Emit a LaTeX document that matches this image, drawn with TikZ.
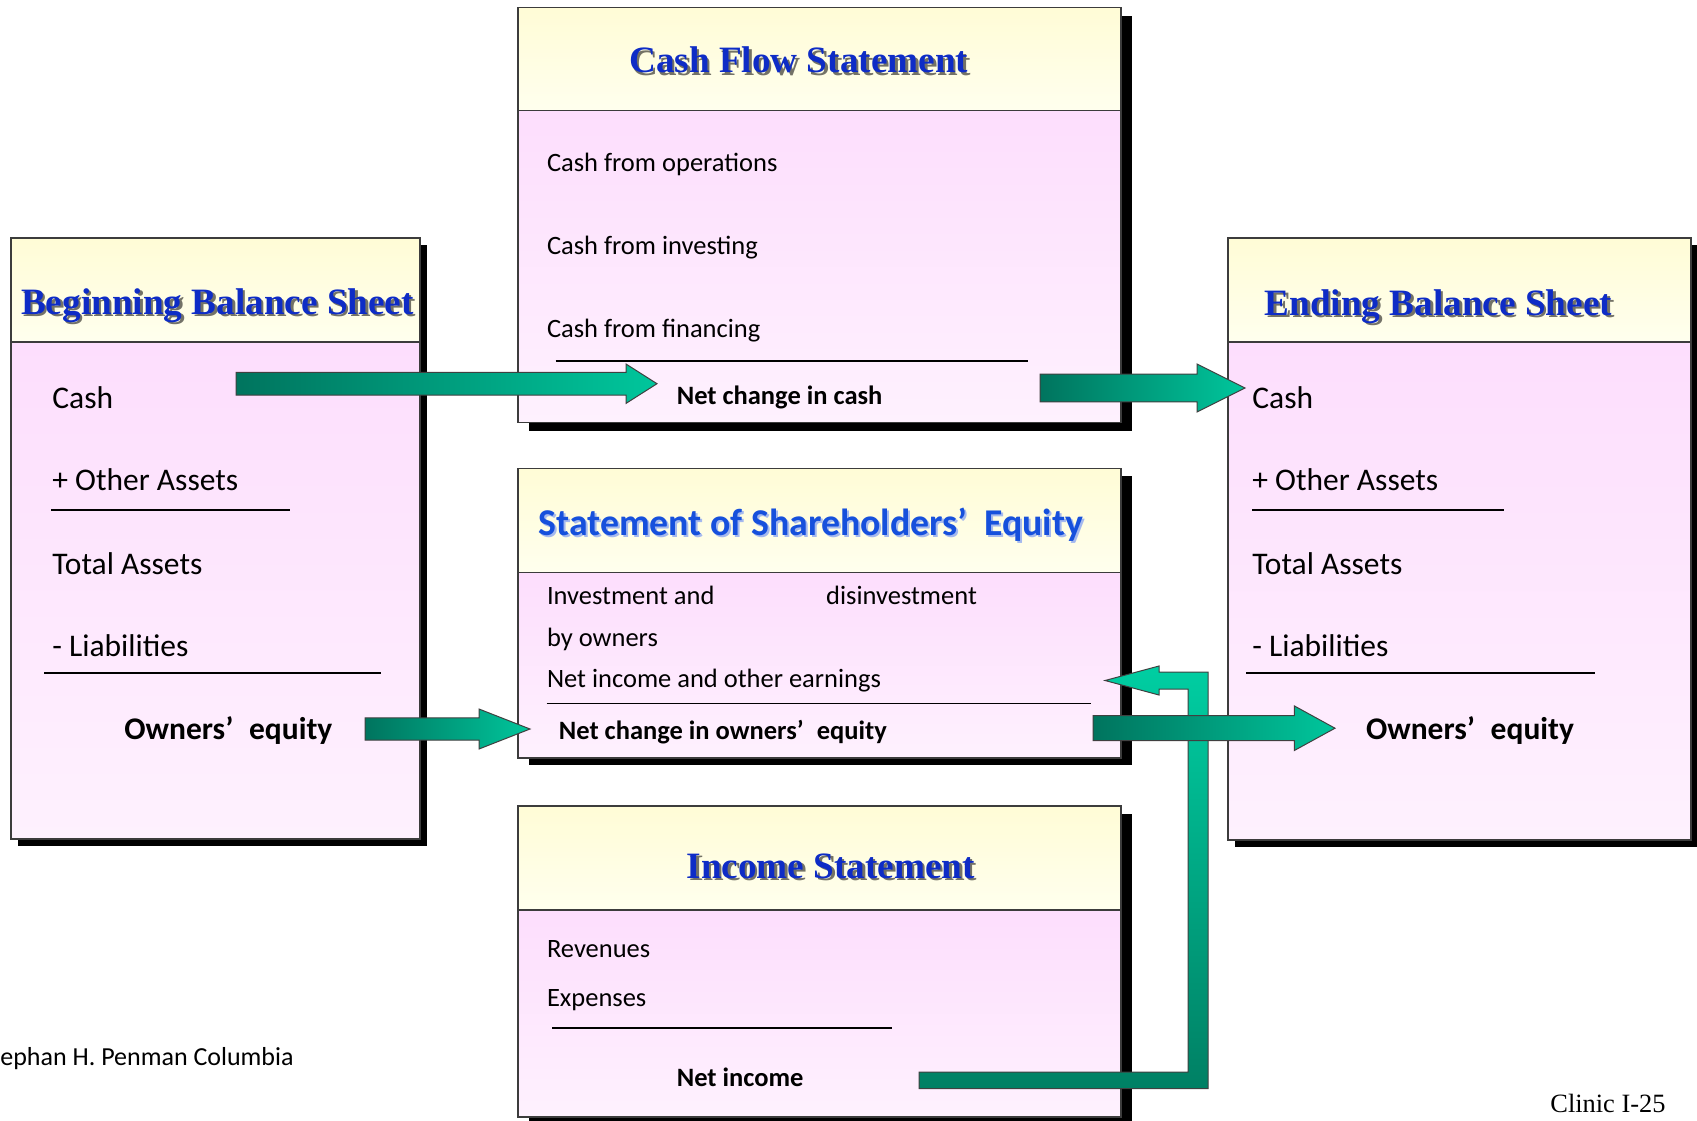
\documentclass[tikz,border=0pt]{standalone}
\usepackage{fontspec}
\setmainfont{Carlito}
\newfontfamily\timesf{Liberation Serif}
\definecolor{tdark}{RGB}{0,116,94}
\definecolor{tlight}{RGB}{0,198,156}
\definecolor{elight}{RGB}{0,206,162}
\definecolor{edark}{RGB}{0,128,100}
\definecolor{hdrtop}{RGB}{255,252,214}
\definecolor{hdrbot}{RGB}{255,255,238}
\definecolor{bodytop}{RGB}{253,222,253}
\definecolor{bodybot}{RGB}{254,241,254}
\definecolor{titleblue}{RGB}{14,44,198}
\definecolor{sseblue}{RGB}{22,80,220}
\definecolor{sseglow}{RGB}{165,185,238}
\definecolor{edgegray}{RGB}{60,60,60}
\tikzset{
  boxedge/.style={draw=edgegray,line width=0.7pt},
  uline/.style={draw=black,line width=0.9pt},
  sidetext/.style={inner sep=0,anchor=base west,font=\fontsize{15.75}{19}\selectfont},
  sidebold/.style={inner sep=0,anchor=base,font=\fontsize{15.75}{19}\selectfont\bfseries},
  midtext/.style={inner sep=0,anchor=base west,font=\fontsize{13.25}{16}\selectfont},
  midbold/.style={inner sep=0,anchor=base west,font=\fontsize{13.25}{16}\selectfont\bfseries},
  ttltext/.style={inner sep=0,anchor=base,text=titleblue,font=\fontsize{18.6}{22}\selectfont\timesf\bfseries},
  ttlshadow/.style={inner sep=0,anchor=base,text=black,text opacity=0.55,font=\fontsize{18.6}{22}\selectfont\timesf\bfseries},
  arrowshape/.style={left color=tdark,right color=tlight,draw=black!75,line width=0.5pt},
  elbowshape/.style={top color=elight,bottom color=edark,draw=black!75,line width=0.5pt}
}
% name, x1, y1, x2, y2, ydiv, shadow dx, shadow dy
\newcommand{\stbox}[8]{%
  \fill[black] ({#2+#7},{#3+#8}) rectangle ({#4+#7},{#5+#8});
  \shade[top color=hdrtop,bottom color=hdrbot] (#2,#3) rectangle (#4,#6);
  \shade[top color=bodytop,bottom color=bodybot] (#2,#6) rectangle (#4,#5);
  \draw[boxedge] (#2,#3) rectangle (#4,#5);
  \draw[boxedge] (#2,#6) -- (#4,#6);
  \coordinate (#1) at ({(#2+#4)/2},{(#3+#5)/2});}
% name, x, baseline y, text
\newcommand{\ttl}[4]{%
  \node[ttlshadow] (#1s) at ({#2+2.5},{#3+2.5}) {#4};
  \node[ttltext] (#1) at (#2,#3) {#4};}
% tail x, tip x, centre y, half shaft, head base x, half head
\newcommand{\barrow}[6]{%
  \shadedraw[arrowshape] (#1,{#3-#4}) -- (#5,{#3-#4}) -- (#5,{#3-#6}) -- (#2,#3)
    -- (#5,{#3+#6}) -- (#5,{#3+#4}) -- (#1,{#3+#4}) -- cycle;}
\begin{document}
\begin{tikzpicture}[x=0.5pt,y=-0.5pt]
\useasboundingbox (0,0) rectangle (1697,1120);
\fill[white] (0,0) rectangle (1697,1120);

% ---------- boxes ----------
\stbox{bbs}{11}{238}{420}{839}{342}{7}{7}
\stbox{ebs}{1228}{238}{1691}{840}{342}{7}{7}
\stbox{cfs}{518}{7.5}{1121}{422.7}{110.4}{11}{8}
\stbox{sse}{518}{468.6}{1121}{758}{572.5}{11}{7}
\stbox{inc}{518}{806}{1121}{1117}{910}{11}{8}

% ---------- titles ----------
\ttl{tbbs}{217.5}{314.3}{Beginning Balance Sheet}
\ttl{tebs}{1438.4}{315.3}{Ending Balance Sheet}
\ttl{tcfs}{798.7}{72.9}{Cash Flow Statement}
\ttl{tinc}{830.7}{878}{Income Statement}
\node[inner sep=0,anchor=base,text=sseglow,font=\fontsize{18.9}{23}\selectfont\bfseries] (tsses) at (812.7,537.5) {Statement of Shareholders’\hspace{0.45em}Equity};
\node[inner sep=0,anchor=base,text=sseblue,font=\fontsize{18.9}{23}\selectfont\bfseries] (tsse) at (810.7,535) {Statement of Shareholders’\hspace{0.45em}Equity};

% ---------- beginning balance sheet ----------
\node[sidetext] (bcash) at (52,408) {Cash};
\node[sidetext] (both) at (52,490.5) {+ Other Assets};
\draw[uline] (51,510) -- (290,510);
\node[sidetext] (btot) at (52,574) {Total Assets};
\node[sidetext] (bliab) at (52,656) {- Liabilities};
\draw[uline] (44,673.2) -- (381,673.2);
\node[sidebold] (beq) at (228.4,739.5) {Owners’\hspace{0.5em}equity};

% ---------- ending balance sheet ----------
\node[sidetext] (ecash) at (1252,408) {Cash};
\node[sidetext] (eoth) at (1252,490.5) {+ Other Assets};
\draw[uline] (1252,510) -- (1504,510);
\node[sidetext] (etot) at (1252,574) {Total Assets};
\node[sidetext] (eliab) at (1252,656) {- Liabilities};
\draw[uline] (1246,673.2) -- (1595,673.2);
\node[sidebold] (eeq) at (1470,739.5) {Owners’\hspace{0.5em}equity};

% ---------- cash flow statement ----------
\node[midtext] (cops) at (546.6,171) {Cash from operations};
\node[midtext] (cinv) at (546.6,254) {Cash from investing};
\node[midtext] (cfin) at (546.6,337.5) {Cash from financing};
\draw[uline] (555.5,361) -- (1028,361);
\node[midbold] (cnet) at (676.4,404.6) {Net change in cash};

% ---------- shareholders' equity ----------
\node[midtext] (sinv) at (546.6,604) {Investment and};
\node[midtext] (sdis) at (825.8,604) {disinvestment};
\node[midtext] (sby) at (546.6,646) {by owners};
\node[midtext] (sni) at (546.6,687) {Net income and other earnings};
\draw[uline] (546.6,703.5) -- (1091,703.5);
\node[midbold] (snet) at (558.5,739) {Net change in owners’\hspace{0.5em}equity};

% ---------- income statement ----------
\node[midtext] (irev) at (546.6,957.7) {Revenues};
\node[midtext] (iexp) at (546.6,1006.4) {Expenses};
\draw[uline] (552,1028.2) -- (892,1028.2);
\node[midbold] (inet) at (676.4,1086.5) {Net income};

% ---------- footer ----------
\node[inner sep=0,anchor=base west,font=\fontsize{13}{16}\selectfont] (foot) at (0,1065) {ephan H. Penman Columbia};
\node[inner sep=0,anchor=base west,font=\fontsize{13.2}{16}\selectfont\timesf] (clinic) at (1550,1112) {Clinic I-25};

% ---------- arrows ----------
\barrow{236}{657}{383.7}{11.3}{626}{19.7}
\barrow{1040}{1245}{388}{13.8}{1197}{24}
\barrow{365}{530}{729}{11.2}{479}{20}
\shadedraw[elbowshape] (919,1088.5) -- (1208,1088.5) -- (1208,672) -- (1159,672) -- (1159,666)
  -- (1105,680.5) -- (1159,695) -- (1159,689) -- (1188,689) -- (1188,1072) -- (919,1072) -- cycle;
\barrow{1093}{1335}{728.2}{12.5}{1294.3}{22.3}
\end{tikzpicture}
\end{document}
